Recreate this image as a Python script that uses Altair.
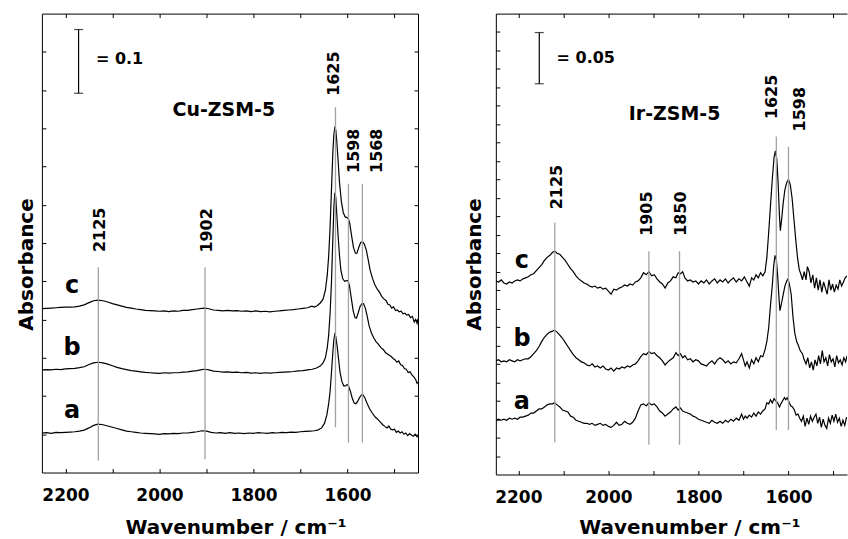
import altair as alt
import pandas as pd

FONT = "DejaVu Sans"

# ---------------- Cu-ZSM-5 (left panel) ----------------
# (wavenumber / cm-1, absorbance in mAbs, spectra offset-stacked as drawn)
cu_a = [(2250, 62), (2240, 62.5), (2230, 61.5), (2220, 63), (2210, 62.5), (2200, 63), (2190, 63.5),
        (2180, 64), (2170, 65), (2160, 66.5), (2150, 70), (2140, 74), (2131, 76), (2120, 75),
        (2110, 73), (2100, 71), (2090, 69), (2080, 67), (2070, 65), (2060, 64), (2050, 63),
        (2040, 62), (2030, 61.5), (2020, 61), (2010, 60.5), (2000, 60), (1990, 61), (1980, 60.5),
        (1970, 61.5), (1960, 61), (1950, 62), (1940, 62), (1930, 63), (1920, 64), (1910, 65.5),
        (1900, 65), (1890, 63), (1880, 62), (1870, 62.5), (1860, 61.5), (1850, 62.5), (1840, 61.5),
        (1830, 62), (1820, 61), (1810, 62), (1800, 61.5), (1790, 62.5), (1780, 62), (1770, 61.5),
        (1760, 62.5), (1750, 62), (1740, 63), (1730, 62.5), (1720, 63.5), (1710, 63), (1700, 64),
        (1690, 64.5), (1680, 65), (1670, 65.5), (1662, 67), (1655, 70), (1649, 77), (1644, 90),
        (1640, 108), (1637, 127), (1634, 158), (1631, 190), (1629, 208), (1627, 217), (1625, 214),
        (1622, 198), (1619, 178), (1616, 158), (1612, 143), (1608, 136), (1604, 136), (1601, 138),
        (1598, 136), (1594, 128), (1590, 117), (1586, 109), (1582, 108), (1578, 112), (1574, 118),
        (1570, 122), (1567, 122), (1563, 117), (1558, 108), (1553, 100), (1547, 93), (1541, 87),
        (1535, 83), (1530, 79), (1525, 75), (1520, 72), (1516, 70), (1512, 73), (1508, 68),
        (1504, 67), (1500, 68), (1496, 63), (1492, 65), (1488, 62), (1484, 64), (1480, 60),
        (1476, 62), (1472, 58), (1468, 61), (1464, 59), (1460, 57), (1456, 60), (1452, 56), (1450, 58)]

cu_b = [(2250, 161), (2240, 161.5), (2230, 161), (2220, 162), (2210, 161.5), (2200, 162.5), (2190, 163),
        (2180, 163.5), (2170, 164.5), (2160, 166), (2150, 169.5), (2140, 172), (2131, 173), (2120, 172),
        (2110, 170), (2100, 167.5), (2090, 165), (2080, 163), (2070, 161.5), (2060, 160), (2050, 159),
        (2040, 158), (2030, 157), (2020, 156.5), (2010, 156), (2000, 155.5), (1990, 156.5), (1980, 156),
        (1970, 156.5), (1960, 156.5), (1950, 157.5), (1940, 158), (1930, 159), (1920, 160), (1910, 161.5),
        (1903, 162), (1895, 161), (1885, 159), (1875, 158.5), (1865, 157.5), (1855, 158), (1845, 157),
        (1835, 157.5), (1825, 156.5), (1815, 157), (1805, 156), (1795, 156.5), (1785, 155.5), (1775, 156.5),
        (1765, 156), (1755, 156.5), (1745, 157), (1735, 157.5), (1725, 158), (1715, 158.5), (1705, 159.5),
        (1695, 160), (1685, 161), (1675, 162), (1666, 164), (1658, 167), (1652, 172), (1647, 180),
        (1643, 196), (1640, 216), (1637, 250), (1634, 300), (1631, 370), (1629, 415), (1627, 439),
        (1625, 432), (1623, 408), (1620, 372), (1617, 340), (1614, 317), (1610, 304), (1606, 300),
        (1602, 301), (1599, 301), (1596, 294), (1592, 274), (1588, 254), (1584, 243), (1581, 242),
        (1577, 251), (1573, 261), (1569, 265), (1566, 265), (1562, 258), (1558, 245), (1554, 230),
        (1549, 219), (1544, 211), (1539, 205), (1534, 201), (1529, 196), (1524, 193), (1519, 188),
        (1515, 186), (1511, 184), (1507, 182), (1503, 179), (1499, 177), (1495, 173), (1491, 175),
        (1487, 169), (1483, 168), (1479, 163), (1475, 162), (1471, 157), (1467, 158), (1463, 153),
        (1459, 150), (1455, 146), (1452, 140), (1450, 142)]

cu_c = [(2250, 257), (2240, 257.5), (2230, 258), (2220, 258.5), (2210, 259), (2200, 259.5), (2190, 259.5),
        (2180, 260), (2170, 261), (2160, 263), (2150, 266.5), (2140, 269.5), (2131, 270.5), (2120, 269.5),
        (2110, 267.5), (2100, 265), (2090, 263), (2080, 261), (2070, 259), (2060, 258), (2050, 256.5),
        (2040, 255.5), (2030, 254.5), (2020, 254), (2010, 253.5), (2000, 253), (1990, 253.5), (1980, 252.5),
        (1970, 253.5), (1960, 253), (1950, 254.5), (1940, 254.5), (1930, 255.5), (1920, 256.5), (1910, 257.5),
        (1903, 258), (1895, 257), (1885, 255), (1875, 254.5), (1865, 253.5), (1855, 254.5), (1845, 253.5),
        (1835, 254), (1825, 253), (1815, 253.5), (1805, 252.5), (1795, 253.5), (1785, 252.5), (1775, 253),
        (1765, 252), (1755, 253), (1745, 253.5), (1735, 254.5), (1725, 255), (1715, 255.5), (1705, 256.5),
        (1695, 257.5), (1685, 258.5), (1676, 261), (1670, 259.5), (1664, 262), (1658, 266), (1652, 272),
        (1647, 286), (1643, 310), (1640, 340), (1637, 385), (1634, 445), (1631, 505), (1629, 530),
        (1627, 541), (1625, 538), (1623, 522), (1620, 490), (1617, 455), (1613, 425), (1609, 408),
        (1605, 401), (1601, 400), (1598, 398), (1595, 390), (1591, 370), (1587, 352), (1583, 344),
        (1580, 344), (1576, 353), (1572, 361), (1568, 362), (1564, 358), (1560, 349), (1556, 334),
        (1552, 318), (1547, 305), (1542, 295), (1537, 288), (1532, 283), (1527, 276), (1522, 272),
        (1518, 270), (1514, 264), (1510, 263), (1506, 258), (1502, 260), (1498, 254), (1494, 255),
        (1490, 252), (1486, 253), (1482, 249), (1478, 250), (1474, 247), (1470, 248), (1466, 243),
        (1462, 245), (1458, 236), (1455, 240), (1452, 234), (1450, 241)]

cu_peak_text = ["2125", "1902", "1625", "1598", "1568"]
cu_peak_wn = [2130, 1903, 1625.6, 1598, 1568.3]
cu_peak_top = [322, 322, 573, 453, 453]
cu_peak_bot = [19, 21, 71, 47, 47]
cu_label_wn = [2127, 1899, 1628, 1586, 1537.5]
cu_label_y = [346, 345, 591, 470, 470]
cu_letters = ["c", "b", "a"]
cu_letter_wn = [2186, 2186, 2186]
cu_letter_y = [281, 184, 86]
cu_bar = {"wn": 2172, "lo": 595, "hi": 695, "text": "= 0.1", "text_wn": 2135, "text_y": 649.5}
cu_name = {"text": "Cu-ZSM-5", "wn": 1863, "y": 569}

# ---------------- Ir-ZSM-5 (right panel) ----------------
ir_a = [(2250, 53), (2244, 54), (2238, 53), (2232, 54), (2226, 53), (2220, 55), (2214, 54), (2208, 55),
        (2202, 54), (2196, 56), (2190, 56), (2184, 57), (2178, 58), (2172, 60), (2166, 60), (2160, 62),
        (2154, 64), (2148, 64), (2142, 66), (2136, 68), (2130, 69), (2124, 69), (2120, 70), (2114, 68),
        (2108, 66), (2102, 63), (2096, 62), (2090, 61), (2084, 57), (2078, 56), (2072, 53), (2066, 52),
        (2060, 51), (2054, 50), (2048, 50), (2042, 49), (2036, 50), (2030, 48), (2024, 49), (2018, 50),
        (2012, 48), (2006, 49), (2000, 47), (1994, 46), (1988, 48), (1982, 51), (1976, 48), (1970, 49),
        (1964, 52), (1958, 50), (1952, 49), (1946, 51), (1940, 55), (1934, 62), (1928, 68), (1922, 69),
        (1916, 67), (1910, 70), (1904, 68), (1898, 69), (1892, 66), (1886, 62), (1880, 60), (1874, 57),
        (1868, 59), (1862, 61), (1856, 64), (1850, 66), (1845, 63), (1840, 65), (1835, 62), (1830, 61),
        (1824, 60), (1818, 59), (1812, 57), (1806, 56), (1800, 54), (1794, 53), (1788, 52), (1782, 51),
        (1776, 50), (1770, 53), (1764, 51), (1758, 50), (1752, 52), (1746, 50), (1740, 53), (1734, 51),
        (1728, 54), (1722, 52), (1716, 55), (1710, 53), (1704, 59), (1700, 54), (1696, 57), (1692, 55),
        (1687, 58), (1682, 56), (1677, 60), (1672, 57), (1667, 61), (1662, 59), (1657, 62), (1652, 64),
        (1648, 70), (1644, 69), (1640, 73), (1636, 70), (1632, 74), (1628, 72), (1624, 70), (1620, 66),
        (1617, 69), (1613, 72), (1609, 75), (1606, 73), (1603, 75), (1599, 71), (1595, 67), (1591, 66),
        (1587, 63), (1583, 58), (1579, 59), (1575, 55), (1571, 52), (1567, 57), (1563, 47), (1559, 55),
        (1555, 49), (1551, 57), (1547, 52), (1543, 56), (1539, 59), (1535, 50), (1531, 56), (1527, 46),
        (1523, 54), (1519, 48), (1515, 45), (1511, 55), (1507, 50), (1503, 58), (1499, 52), (1495, 59),
        (1491, 51), (1487, 55), (1483, 47), (1479, 53), (1475, 48), (1471, 56)]

ir_b = [(2250, 111), (2244, 112), (2238, 110), (2232, 111), (2226, 110), (2220, 112), (2214, 111),
        (2208, 110), (2202, 112), (2196, 111), (2190, 112), (2184, 113), (2178, 113), (2172, 115),
        (2166, 118), (2160, 121), (2154, 125), (2148, 130), (2142, 134), (2136, 137), (2130, 139),
        (2124, 140), (2120, 141), (2114, 139), (2108, 136), (2102, 133), (2096, 129), (2090, 125),
        (2084, 121), (2078, 117), (2072, 114), (2066, 112), (2060, 110), (2054, 109), (2048, 107),
        (2042, 106), (2036, 108), (2030, 105), (2024, 106), (2018, 104), (2012, 106), (2006, 103),
        (2000, 102), (1994, 104), (1988, 101), (1982, 104), (1976, 103), (1970, 105), (1964, 104),
        (1958, 106), (1952, 105), (1946, 107), (1940, 108), (1934, 111), (1928, 115), (1922, 118),
        (1916, 117), (1910, 120), (1904, 118), (1898, 119), (1892, 116), (1886, 114), (1880, 111),
        (1874, 107), (1868, 110), (1862, 112), (1856, 114), (1850, 119), (1845, 116), (1840, 118),
        (1835, 114), (1830, 116), (1824, 112), (1818, 113), (1812, 110), (1806, 112), (1800, 111),
        (1794, 108), (1788, 107), (1782, 106), (1776, 109), (1770, 111), (1764, 108), (1758, 112),
        (1752, 114), (1746, 112), (1740, 109), (1734, 111), (1728, 108), (1722, 110), (1716, 109),
        (1710, 113), (1704, 118), (1700, 112), (1696, 106), (1692, 110), (1687, 104), (1682, 112),
        (1677, 108), (1672, 114), (1667, 110), (1662, 116), (1657, 115), (1652, 122), (1648, 130),
        (1644, 143), (1640, 165), (1636, 184), (1633, 203), (1630, 214), (1627, 210), (1624, 194),
        (1621, 172), (1619, 160), (1616, 166), (1612, 175), (1608, 184), (1604, 189), (1601, 191),
        (1598, 186), (1594, 176), (1590, 154), (1586, 138), (1582, 130), (1578, 126), (1574, 121),
        (1569, 118), (1565, 112), (1561, 108), (1557, 114), (1553, 104), (1549, 110), (1545, 102),
        (1541, 112), (1537, 106), (1533, 116), (1529, 108), (1525, 121), (1521, 110), (1517, 114),
        (1513, 106), (1509, 117), (1505, 110), (1501, 113), (1497, 105), (1493, 116), (1489, 109),
        (1485, 112), (1481, 107), (1477, 114), (1473, 110), (1470, 116)]

ir_c = [(2250, 189), (2244, 188), (2238, 190), (2232, 187), (2226, 186), (2220, 188), (2214, 187),
        (2208, 189), (2202, 190), (2196, 189), (2190, 191), (2184, 192), (2178, 193), (2172, 195),
        (2166, 196), (2160, 199), (2154, 202), (2148, 205), (2142, 209), (2136, 212), (2130, 214),
        (2124, 217), (2119, 218), (2114, 216), (2108, 215), (2102, 212), (2096, 209), (2090, 205),
        (2084, 201), (2078, 198), (2072, 194), (2066, 191), (2060, 189), (2054, 187), (2048, 186),
        (2042, 184), (2036, 183), (2030, 184), (2024, 182), (2018, 183), (2012, 181), (2006, 182),
        (2000, 179), (1994, 176), (1988, 181), (1982, 180), (1976, 182), (1970, 183), (1964, 185),
        (1958, 184), (1952, 186), (1946, 185), (1940, 188), (1934, 189), (1928, 192), (1922, 197),
        (1916, 195), (1910, 198), (1904, 194), (1898, 195), (1892, 191), (1886, 188), (1880, 186),
        (1874, 182), (1868, 187), (1862, 189), (1856, 193), (1850, 192), (1845, 197), (1840, 196),
        (1835, 198), (1830, 192), (1824, 189), (1818, 190), (1812, 188), (1806, 189), (1800, 186),
        (1794, 189), (1788, 187), (1782, 190), (1776, 186), (1770, 189), (1764, 191), (1758, 187),
        (1752, 190), (1746, 188), (1740, 191), (1734, 187), (1728, 190), (1722, 192), (1716, 188),
        (1710, 191), (1704, 189), (1698, 193), (1692, 188), (1687, 184), (1682, 192), (1677, 190),
        (1672, 195), (1667, 192), (1662, 197), (1657, 194), (1652, 198), (1648, 212), (1644, 236),
        (1640, 262), (1636, 288), (1632, 310), (1629, 316), (1626, 308), (1623, 285), (1620, 252),
        (1618, 238), (1615, 250), (1612, 264), (1608, 278), (1604, 285), (1600, 288), (1596, 283),
        (1592, 270), (1588, 250), (1584, 230), (1580, 212), (1576, 200), (1572, 195), (1569, 190),
        (1565, 198), (1561, 190), (1558, 203), (1554, 198), (1550, 187), (1546, 195), (1542, 182),
        (1538, 192), (1534, 180), (1530, 190), (1526, 178), (1522, 188), (1518, 182), (1514, 176),
        (1510, 190), (1506, 180), (1502, 186), (1498, 178), (1494, 185), (1490, 181), (1486, 190),
        (1482, 184), (1478, 188), (1474, 192), (1470, 194)]

ir_peak_text = ["2125", "1905", "1850", "1625", "1598"]
ir_peak_wn = [2119, 1910, 1842, 1627, 1600]
ir_peak_top = [246, 218, 218, 330, 320]
ir_peak_bot = [31.5, 29, 29, 43.5, 43.5]
ir_label_wn = [2113, 1914, 1838, 1637, 1575]
ir_label_y = [259, 233, 233, 347, 335]
ir_letters = ["c", "b", "a"]
ir_letter_wn = [2192, 2192, 2192]
ir_letter_y = [201.6, 125.6, 64.3]
ir_bar = {"wn": 2153.5, "lo": 381.5, "hi": 431.5, "text": "= 0.05", "text_wn": 2115, "text_y": 406.5}
ir_name = {"text": "Ir-ZSM-5", "wn": 1853, "y": 351.6}

X_TICKS = [1500, 1600, 1700, 1800, 1900, 2000, 2100, 2200]
CU_Y_TICKS = [60, 120, 180, 240, 300, 360, 420, 480, 540, 600, 660]
IR_Y_TICKS = [18, 36, 54, 72, 90, 108, 126, 144, 162, 180, 198, 216, 234, 252, 270,
              288, 306, 324, 342, 360, 378, 396, 414, 432]


def spectra(curves):
    rows = []
    for name, pts in curves:
        for wn, v in pts:
            rows.append({"series": name, "wn": wn, "A": v})
    return pd.DataFrame(rows)


def panel(curves, peak_text, peak_wn, peak_top, peak_bot, label_wn, label_y,
          letters, letter_wn, letter_y, bar, name, xdom, ydom, yticks,
          width, height, framed, ytitle_x, xtitle_y):
    xs = alt.Scale(domain=xdom, reverse=True, nice=False, zero=False)
    ys = alt.Scale(domain=ydom, nice=False, zero=False)

    x_axis = alt.Axis(
        title="Wavenumber / cm⁻¹", values=X_TICKS, format="d",
        labelExpr="datum.value % 200 === 0 ? datum.label : ''",
        ticks=False, tickSize=0, domain=not framed, domainColor="black", domainWidth=1,
        grid=True, gridColor="black", gridOpacity=1, gridWidth=1,
        gridDash=[4, height - 8, 4, 3000],
        labelFont=FONT, labelFontSize=17, labelFontWeight="bold", labelColor="black",
        labelPadding=15, labelOverlap=False, labelFlush=False,
        titleFont=FONT, titleFontSize=20, titleFontWeight="bold", titleColor="black",
        titleX=194, titleY=xtitle_y, titleBaseline="alphabetic")
    # y grid lines run from the right edge to the left edge (reversed x scale)
    y_dash = [4, width - 8, 4, 3000] if framed else [0, width - 4, 4, 3000]
    y_axis = alt.Axis(
        title="Absorbance", values=yticks, labels=False, ticks=False, tickSize=0,
        domain=not framed, domainColor="black", domainWidth=1,
        grid=True, gridColor="black", gridOpacity=1, gridWidth=1, gridDash=y_dash,
        minExtent=0,
        titleFont=FONT, titleFontSize=20, titleFontWeight="bold", titleColor="black",
        titleX=ytitle_x, titleY=251, titleBaseline="alphabetic")
    top_axis = alt.Axis(
        orient="top", domain=True, domainColor="black", domainWidth=1,
        labels=False, ticks=False, grid=False, title=None)

    spec_df = spectra(curves)
    peaks_df = pd.DataFrame({"wn": peak_wn, "top": peak_top, "bot": peak_bot})
    labels_df = pd.DataFrame({"wn": label_wn, "y": label_y, "label": peak_text})
    letters_df = pd.DataFrame({"wn": letter_wn, "y": letter_y, "label": letters})
    bar_df = pd.DataFrame({"wn": [bar["wn"]], "lo": [bar["lo"]], "hi": [bar["hi"]]})
    caps_df = pd.DataFrame({"wn": [bar["wn"], bar["wn"]], "y": [bar["lo"], bar["hi"]]})
    notes_df = pd.DataFrame({"wn": [bar["text_wn"]], "y": [bar["text_y"]], "label": [bar["text"]]})
    name_df = pd.DataFrame({"wn": [name["wn"]], "y": [name["y"]], "label": [name["text"]]})

    # framed (left) panel: every layer carries the same axes (shared resolution);
    # open (right) panel: x axes independent (bottom on the spectra, top frame line on notes)
    def X(kind):
        if framed:
            return alt.X("wn:Q", scale=xs, axis=x_axis)
        if kind == "bottom":
            return alt.X("wn:Q", scale=xs, axis=x_axis)
        if kind == "top":
            return alt.X("wn:Q", scale=xs, axis=top_axis)
        return alt.X("wn:Q", scale=xs, axis=None)

    def Y(field):
        return alt.Y(field, scale=ys, axis=y_axis)

    lines = alt.Chart(spec_df).mark_line(color="black", strokeWidth=1.2, clip=True).encode(
        x=X("bottom"), y=Y("A:Q"), detail="series:N")
    peaks = alt.Chart(peaks_df).mark_rule(color="#a2a2a2", strokeWidth=1.3).encode(
        x=X(None), y=Y("top:Q"), y2="bot:Q")
    labels = alt.Chart(labels_df).mark_text(
        angle=270, align="left", baseline="middle", font=FONT, fontSize=16,
        fontWeight="bold", color="black").encode(x=X(None), y=Y("y:Q"), text="label:N")
    letter_marks = alt.Chart(letters_df).mark_text(
        align="center", baseline="alphabetic", font=FONT, fontSize=24,
        fontWeight="bold", color="black").encode(x=X(None), y=Y("y:Q"), text="label:N")
    bar_rule = alt.Chart(bar_df).mark_rule(color="black", strokeWidth=1.2).encode(
        x=X(None), y=Y("lo:Q"), y2="hi:Q")
    bar_caps = alt.Chart(caps_df).mark_tick(
        orient="horizontal", size=9, thickness=1.2, color="black").encode(x=X(None), y=Y("y:Q"))
    notes = alt.Chart(notes_df).mark_text(
        align="left", baseline="middle", font=FONT, fontSize=16,
        fontWeight="bold", color="black").encode(x=X("top"), y=Y("y:Q"), text="label:N")
    name_mark = alt.Chart(name_df).mark_text(
        align="center", baseline="middle", font=FONT, fontSize=19,
        fontWeight="bold", color="black").encode(x=X(None), y=Y("y:Q"), text="label:N")

    layer = alt.layer(lines, peaks, labels, letter_marks, bar_rule, bar_caps, notes, name_mark)
    if framed:
        view = alt.ViewBackground(stroke="black", strokeWidth=1)
    else:
        layer = layer.resolve_axis(x="independent")
        view = alt.ViewBackground(stroke="transparent")
    return layer.properties(width=width, height=height, view=view)


left = panel([("a", cu_a), ("b", cu_b), ("c", cu_c)], cu_peak_text, cu_peak_wn, cu_peak_top,
             cu_peak_bot, cu_label_wn, cu_label_y, cu_letters, cu_letter_wn, cu_letter_y,
             cu_bar, cu_name, [1450, 2250], [0, 720], CU_Y_TICKS, 377, 460, True, -9.5, 61)

right = panel([("a", ir_a), ("b", ir_b), ("c", ir_c)], ir_peak_text, ir_peak_wn, ir_peak_top,
              ir_peak_bot, ir_label_wn, ir_label_y, ir_letters, ir_letter_wn, ir_letter_y,
              ir_bar, ir_name, [1470, 2250], [0, 450], IR_Y_TICKS, 352, 462, False, -15, 59)

chart = alt.hconcat(left, right, spacing=45).properties(
    padding={"left": 16, "top": 12, "right": 0, "bottom": 0},
    background="white")

chart.save("out.html", embed_options={"renderer": "svg", "actions": False})
